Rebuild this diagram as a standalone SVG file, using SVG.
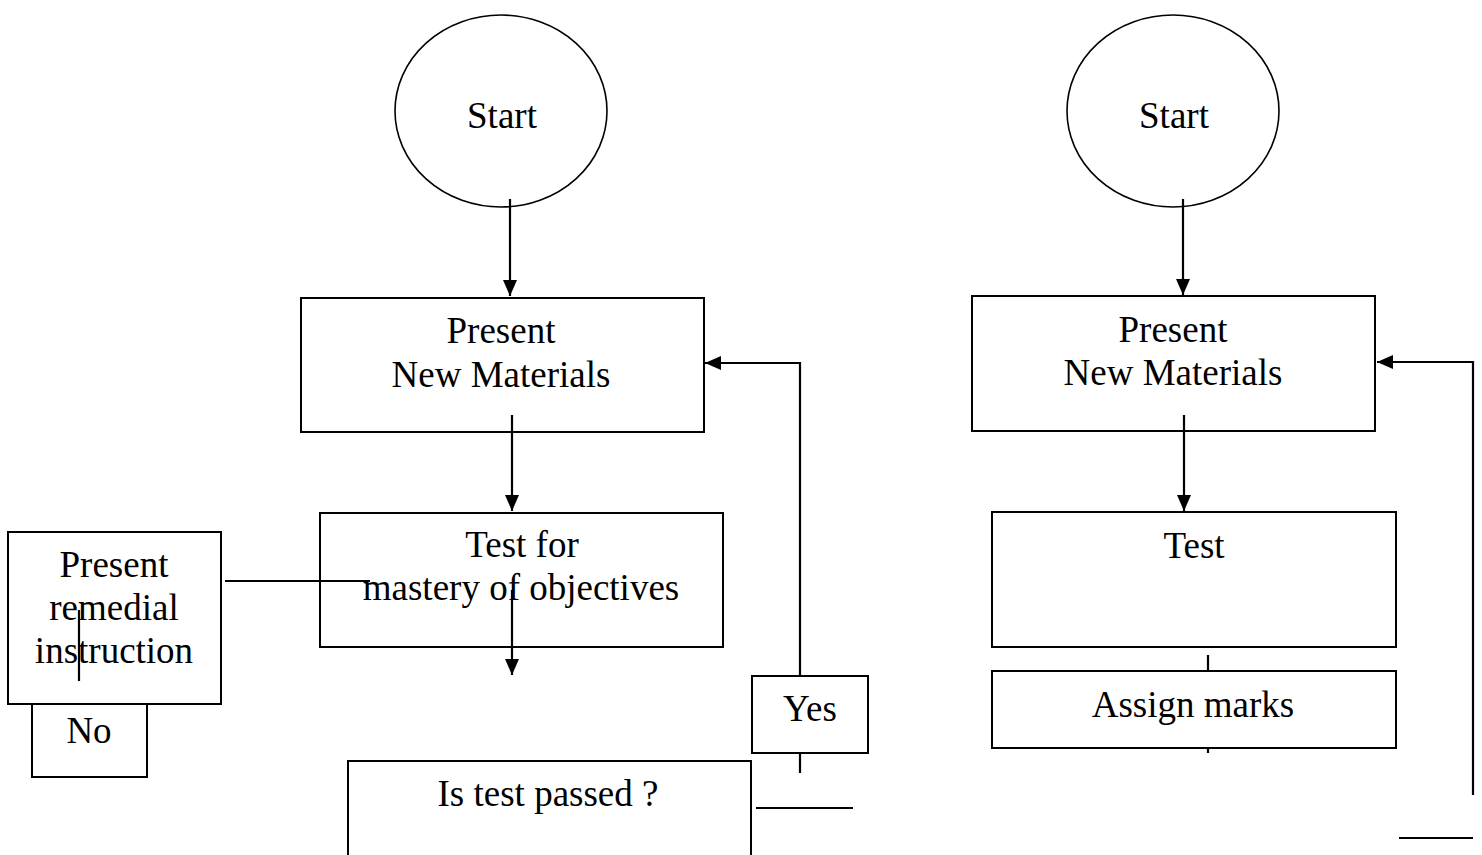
<svg xmlns="http://www.w3.org/2000/svg" width="1482" height="855" viewBox="0 0 1482 855">
<style>
.n{fill:#fff;stroke:#000;stroke-width:2}
.e{fill:#fff;stroke:#000;stroke-width:1.6}
.t{font-family:"Liberation Serif","Times New Roman",serif;font-size:37px;fill:#000;text-anchor:middle}
.c{fill:none;stroke:#000;stroke-width:2.2}
</style>
<defs>
<marker id="ah" markerUnits="userSpaceOnUse" markerWidth="18" markerHeight="16" refX="16" refY="8" orient="auto">
<path d="M0,1 L16,8 L0,15 z" fill="#000"/>
</marker>
</defs>
<g id="start1"><ellipse class="e" cx="501" cy="111" rx="106" ry="96"/><text class="t" x="502" y="128">Start</text></g>
<g id="present1"><rect class="n" x="301" y="298" width="403" height="134"/><text class="t" x="501" y="343">Present</text><text class="t" x="501" y="387">New Materials</text></g>
<g id="test1"><rect class="n" x="320" y="513" width="403" height="134"/><text class="t" x="522" y="557">Test for</text><text class="t" x="521" y="600">mastery of objectives</text></g>
<g id="remedial"><rect class="n" x="8" y="532" width="213" height="172"/><text class="t" x="114" y="577">Present</text><text class="t" x="114" y="620">remedial</text><text class="t" x="114" y="663">instruction</text></g>
<g id="no"><rect class="n" x="32" y="704" width="115" height="73"/><text class="t" x="89" y="743">No</text></g>
<g id="yes"><rect class="n" x="752" y="676" width="116" height="77"/><text class="t" x="810" y="721">Yes</text></g>
<g id="passed"><rect class="n" x="348" y="761" width="403" height="120"/><text class="t" x="548" y="806">Is test passed ?</text></g>
<g id="start2"><ellipse class="e" cx="1173" cy="111" rx="106" ry="96"/><text class="t" x="1174" y="128">Start</text></g>
<g id="present2"><rect class="n" x="972" y="296" width="403" height="135"/><text class="t" x="1173" y="342">Present</text><text class="t" x="1173" y="385">New Materials</text></g>
<g id="test2"><rect class="n" x="992" y="512" width="404" height="135"/><text class="t" x="1194" y="558">Test</text></g>
<g id="assign"><rect class="n" x="992" y="671" width="404" height="77"/><text class="t" x="1193" y="717">Assign marks</text></g>
<g id="connectors">
<line class="c" x1="510" y1="199" x2="510" y2="296" marker-end="url(#ah)"/>
<line class="c" x1="512" y1="415" x2="512" y2="511" marker-end="url(#ah)"/>
<line class="c" x1="512" y1="590" x2="512" y2="675" marker-end="url(#ah)"/>
<line class="c" x1="225" y1="581" x2="370" y2="581"/>
<line class="c" x1="79" y1="610" x2="79" y2="681"/>
<polyline class="c" points="800,676 800,363 705,363" marker-end="url(#ah)"/>
<line class="c" x1="800" y1="753" x2="800" y2="773"/>
<line class="c" x1="756" y1="808" x2="853" y2="808"/>
<line class="c" x1="1183" y1="199" x2="1183" y2="295" marker-end="url(#ah)"/>
<line class="c" x1="1184" y1="415" x2="1184" y2="511" marker-end="url(#ah)"/>
<line class="c" x1="1208" y1="655" x2="1208" y2="671"/>
<line class="c" x1="1208" y1="748" x2="1208" y2="753"/>
<polyline class="c" points="1473,795 1473,362 1377,362" marker-end="url(#ah)"/>
<line class="c" x1="1399" y1="838" x2="1473" y2="838"/>
</g>
</svg>
